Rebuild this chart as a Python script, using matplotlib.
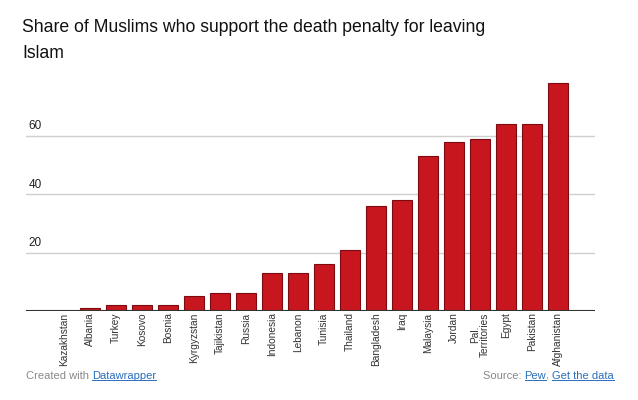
import numpy as np
import matplotlib.pyplot as plt

countries = ['Kazakhstan', 'Albania', 'Turkey', 'Kosovo', 'Bosnia', 'Kyrgyzstan',
             'Tajikistan', 'Russia', 'Indonesia', 'Lebanon', 'Tunisia', 'Thailand',
             'Bangladesh', 'Iraq', 'Malaysia', 'Jordan', 'Pal.\nTerritories', 'Egypt',
             'Pakistan', 'Afghanistan']
share = [0, 1, 2, 2, 2, 5, 6, 6, 13, 13, 16, 21, 36, 38, 53, 58, 59, 64, 64, 78]
yticks = [20, 40, 60]

plt.rcParams['font.family'] = ['Liberation Sans', 'DejaVu Sans']

fig = plt.figure(figsize=(6.38, 4.0), dpi=100)
ax = fig.add_axes([26 / 638, 89 / 400, 569 / 638, 233.6 / 400])

x = np.arange(len(countries))
ax.bar(x, share, width=0.75, color='#c8161e', edgecolor='#7d0a10', linewidth=0.8, zorder=3)

ax.set_xlim(-1.46, 20.42)
ax.set_ylim(0, 80)

# gridlines with labels sitting above them
for v in yticks:
    ax.axhline(v, color='#d0d0d0', lw=1, zorder=1)
    ax.text(0.004, v + 1.2, str(v), transform=ax.get_yaxis_transform(),
            fontsize=8.5, color='#222222', ha='left', va='bottom')
ax.axhline(0, color='#333333', lw=1.5, zorder=4)

ax.set_yticks([])
ax.set_xticks(x)
ax.set_xticklabels(countries, rotation=90, fontsize=7.3, color='#333333',
                   va='top', ha='center', linespacing=1.0)
ax.tick_params(axis='x', length=0, pad=1)
for s in ax.spines.values():
    s.set_visible(False)

fig.text(22 / 638, 1 - 19 / 400,
         'Share of Muslims who support the death penalty for leaving\nIslam',
         fontsize=12.7, color='#111111', ha='left', va='top', linespacing=1.7)

# footer
t1 = fig.text(26 / 638, 1 - 376 / 400, 'Created with ', fontsize=8, color='#888888',
              ha='left', va='center')
fig.canvas.draw()
r = fig.canvas.get_renderer()
links = []
bb = t1.get_window_extent(r)
links.append(fig.text(bb.x1 / 638, 1 - 376 / 400, 'Datawrapper', fontsize=8,
                      color='#2a6ebb', ha='left', va='center'))

t_right = fig.text(614 / 638, 1 - 376 / 400, 'Get the data', fontsize=8,
                   color='#2a6ebb', ha='right', va='center')
links.append(t_right)
fig.canvas.draw()
bb = t_right.get_window_extent(r)
t_comma = fig.text(bb.x0 / 638, 1 - 376 / 400, ', ', fontsize=8, color='#888888',
                   ha='right', va='center')
fig.canvas.draw()
bb = t_comma.get_window_extent(r)
t_pew = fig.text(bb.x0 / 638, 1 - 376 / 400, 'Pew', fontsize=8, color='#2a6ebb',
                 ha='right', va='center')
links.append(t_pew)
fig.canvas.draw()
bb = t_pew.get_window_extent(r)
fig.text(bb.x0 / 638, 1 - 376 / 400, 'Source: ', fontsize=8, color='#888888',
         ha='right', va='center')

# underline the links
fig.canvas.draw()
for t in links:
    bb = t.get_window_extent(r)
    fig.add_artist(plt.Line2D([bb.x0 / 638, bb.x1 / 638], [(bb.y0 + 1) / 400] * 2,
                              color='#2a6ebb', lw=0.7))

fig.savefig('out.png', dpi=100)
